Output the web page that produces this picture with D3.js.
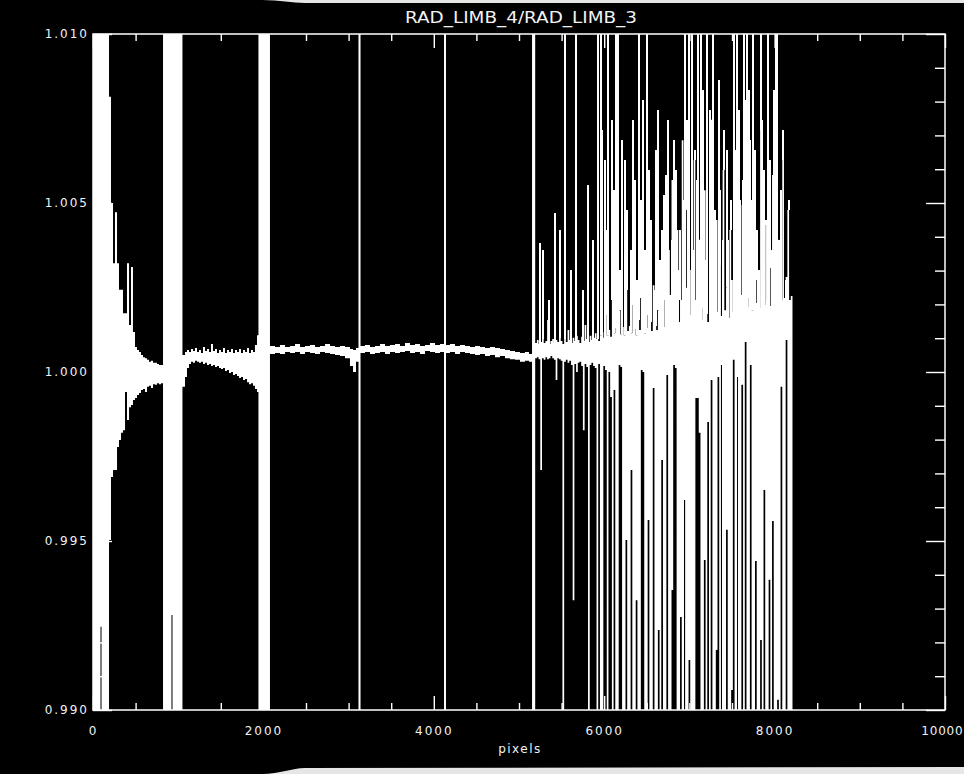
<!DOCTYPE html>
<html>
<head>
<meta charset="utf-8">
<script src="https://cdn.jsdelivr.net/npm/d3@7"></script>
<style>
  html, body { margin: 0; padding: 0; background: #000; }
  svg { display: block; }
</style>
</head>
<body>
<svg id="chart" width="964" height="774"></svg>
<script>
// ---- Trace envelope: each bin starts at binPix and holds the upper / lower
// extent of the ratio curve inside it (values above 1.010 or below 0.990 run off the frame)
const binPix = [0, 88, 100, 188, 211, 235, 258, 282, 305, 329, 352, 376, 399, 423, 446, 469, 493, 516, 540, 563,
  587, 610, 634, 657, 681, 704, 728, 751, 775, 798, 822, 921, 933, 1050, 1080, 1103, 1127, 1150, 1174, 1197,
  1221, 1244, 1268, 1291, 1315, 1338, 1362, 1385, 1408, 1432, 1455, 1479, 1502, 1526, 1549, 1573, 1596, 1620,
  1643, 1667, 1690, 1714, 1737, 1761, 1784, 1808, 1831, 1854, 1878, 1901, 1925, 1942, 2077, 2136, 2195, 2254,
  2312, 2371, 2430, 2488, 2547, 2606, 2664, 2723, 2782, 2840, 2899, 2958, 3016, 3052, 3087, 3116, 3140, 3192,
  3251, 3310, 3369, 3427, 3486, 3545, 3603, 3662, 3721, 3779, 3838, 3897, 3955, 4014, 4073, 4120, 4143, 4190,
  4249, 4308, 4366, 4425, 4484, 4542, 4601, 4660, 4718, 4777, 4836, 4894, 4953, 5012, 5070, 5117, 5153];

const binHi = [1.0120, 1.0120, 1.0120, 1.00814, 1.00500, 1.00322, 1.00473, 1.00322, 1.00243, 1.00243, 1.00174,
  1.00174, 1.00322, 1.00139, 1.00311, 1.00118, 1.00074, 1.00065, 1.00059, 1.00050, 1.00044, 1.00041, 1.00036,
  1.00030, 1.00033, 1.00027, 1.00027, 1.00024, 1.00021, 1.00021, 1.0120, 1.0120, 1.0120, 1.00050, 1.00059,
  1.00065, 1.00059, 1.00068, 1.00062, 1.00071, 1.00059, 1.00065, 1.00056, 1.00074, 1.00062, 1.00068, 1.00059,
  1.00083, 1.00062, 1.00068, 1.00056, 1.00065, 1.00059, 1.00071, 1.00056, 1.00065, 1.00059, 1.00068, 1.00056,
  1.00065, 1.00059, 1.00068, 1.00056, 1.00065, 1.00059, 1.00071, 1.00056, 1.00065, 1.00059, 1.00080, 1.00109,
  1.0120, 1.00077, 1.00074, 1.00080, 1.00074, 1.00077, 1.00083, 1.00074, 1.00077, 1.00080, 1.00074, 1.00077,
  1.00083, 1.00077, 1.00074, 1.00077, 1.00074, 1.00068, 1.00065, 1.00071, 1.0120, 1.00077, 1.00080, 1.00074,
  1.00077, 1.00083, 1.00077, 1.00080, 1.00083, 1.00077, 1.00086, 1.00080, 1.00083, 1.00077, 1.00080, 1.00086,
  1.00080, 1.00083, 1.0120, 1.00080, 1.00083, 1.00077, 1.00080, 1.00077, 1.00074, 1.00077, 1.00074, 1.00071,
  1.00074, 1.00071, 1.00068, 1.00065, 1.00062, 1.00059, 1.00056, 1.00059, 1.00053, 1.0120];

const binLo = [0.9880, 0.99246, 0.9880, 0.99503, 0.99689, 0.99710, 0.99710, 0.99778, 0.99799, 0.99820, 0.99828,
  0.99941, 0.99858, 0.99896, 0.99902, 0.99917, 0.99923, 0.99932, 0.99938, 0.99947, 0.99950, 0.99941, 0.99956,
  0.99959, 0.99953, 0.99964, 0.99962, 0.99967, 0.99964, 0.99967, 0.9880, 0.99281, 0.9880, 0.99956, 0.99985,
  1.00012, 1.00024, 1.00030, 1.00027, 1.00033, 1.00030, 1.00027, 1.00030, 1.00024, 1.00027, 1.00021, 1.00024,
  1.00018, 1.00021, 1.00015, 1.00018, 1.00012, 1.00009, 1.00012, 1.00003, 1.00006, 0.99997, 1.00000, 0.99991,
  0.99994, 0.99988, 0.99982, 0.99985, 0.99976, 0.99979, 0.99970, 0.99964, 0.99967, 0.99959, 0.99950, 0.99941,
  0.9880, 1.00053, 1.00056, 1.00053, 1.00059, 1.00056, 1.00059, 1.00053, 1.00059, 1.00056, 1.00053, 1.00059,
  1.00056, 1.00053, 1.00050, 1.00047, 1.00041, 1.00018, 1.00000, 1.00030, 0.9880, 1.00056, 1.00059, 1.00053,
  1.00056, 1.00059, 1.00053, 1.00059, 1.00056, 1.00059, 1.00062, 1.00056, 1.00059, 1.00053, 1.00062, 1.00059,
  1.00056, 1.00059, 0.9880, 1.00056, 1.00059, 1.00053, 1.00059, 1.00056, 1.00053, 1.00050, 1.00053, 1.00047,
  1.00050, 1.00044, 1.00047, 1.00041, 1.00038, 1.00036, 1.00030, 1.00033, 1.00030, 0.9880];

// ---- Noisy tail of the detector: uniform 20-pixel bins starting at tailStart
const tailStart = 5190;
const tailStep = 20;
const tailHi = [
  1.00086, 1.00095, 1.00083, 1.00089, 1.00098, 1.00086, 1.00092, 1.00154, 1.00083, 1.00092,
  1.00098, 1.00086, 1.00095, 1.00089, 1.00101, 1.00092, 1.00083, 1.00098, 1.00089, 1.00124,
  1.00095, 1.00086, 1.00101, 1.00092, 1.00107, 1.00095, 1.00086, 1.00104, 1.00092, 1.00139,
  1.00098, 1.00089, 1.00107, 1.00095, 1.00101, 1.00115, 1.00098, 1.00092, 1.00109, 1.00118,
  1.00101, 1.00169, 1.00109, 1.00124, 1.00104, 1.00213, 1.00115, 1.00130, 1.00107, 1.00183,
  1.00112, 1.00133, 1.00109, 1.00243, 1.00121, 1.00136, 1.00115, 1.00198, 1.00127, 1.00109,
  1.00154, 1.00124, 1.00219, 1.00133, 1.00115, 1.00169, 1.00130, 1.00148, 1.00121, 1.00257,
  1.00136, 1.00124, 1.00183, 1.00142, 1.00118, 1.00213, 1.00133, 1.00154, 1.00361, 1.00228,
  1.00568, 1.00139, 1.00272, 1.00420, 1.00148, 1.00213, 1.00686, 1.00178, 1.00249, 1.00479,
  1.00169, 1.00302, 1.00160, 1.00627, 1.00213, 1.00169, 1.00391, 1.00154, 1.00189, 1.00538,
  1.00172, 1.00148, 1.00225, 1.00746, 1.00263, 1.00160, 1.00450, 1.00178, 1.00317, 1.00166,
  1.00598, 1.00183, 1.00251, 1.00160, 1.00420, 1.00272, 1.00178, 1.00657, 1.00175, 1.00302,
  1.00494, 1.00228, 1.00178, 1.00805, 1.00192, 1.00219, 1.00376, 1.00183, 1.00538, 1.00204,
  1.00272, 1.00189, 1.00716, 1.00296, 1.00198, 1.00435, 1.00213, 1.00308, 1.00195, 1.00583,
  1.00263, 1.00204, 1.00391, 1.00222, 1.00213, 1.00627, 1.00219, 1.00281, 1.00479, 1.00213, 1.00225];

const tailLo = [
  1.00041, 1.00044, 1.00038, 0.99710, 1.00041, 1.00036, 1.00044, 1.00038, 1.00041, 1.00047,
  1.00041, 1.00036, 0.99976, 1.00041, 1.00038, 1.00033, 0.98800, 1.00030, 1.00036, 1.00027,
  1.00033, 1.00021, 0.99325, 1.00024, 1.00000, 1.00027, 1.00030, 1.00018, 0.99828, 1.00024,
  1.00015, 0.98800, 1.00021, 1.00027, 1.00018, 1.00012, 0.98800, 1.00024, 0.98800, 0.98800,
  1.00018, 1.00006, 0.98800, 1.00000, 0.99926, 0.98800, 0.99947, 0.98800, 0.98800, 1.00021,
  1.00015, 0.98800, 0.98800, 0.99503, 0.98800, 0.98800, 0.99710, 0.98800, 0.98800, 0.99325,
  0.98800, 0.98800, 1.00006, 1.00000, 0.98800, 0.98800, 0.99562, 0.98800, 0.98800, 0.99953,
  0.98800, 0.98800, 0.99237, 0.98800, 0.99740, 0.98800, 0.98800, 0.99991, 0.98800, 0.98800,
  0.99355, 1.00021, 1.00012, 0.98800, 0.98800, 0.99275, 0.98800, 0.99621, 0.98800, 0.98800,
  0.99148, 0.98800, 0.98800, 0.98800, 0.99923, 0.99923, 0.99820, 0.98800, 0.98800, 0.99444,
  0.98800, 0.99852, 0.98800, 0.99976, 0.98800, 0.98800, 0.99178, 0.99985, 0.98800, 1.00021,
  0.98800, 0.98800, 0.99533, 0.98800, 0.98800, 0.99059, 1.00036, 0.98800, 0.99985, 0.98800,
  0.98800, 0.99962, 0.98800, 1.00089, 0.98800, 0.98800, 1.00021, 0.98800, 0.98800, 0.99441,
  0.98800, 0.98800, 0.99207, 0.98800, 0.99651, 0.98800, 0.98800, 0.99385, 0.98800, 0.99559,
  0.98800, 0.98800, 0.99030, 0.98800, 0.99956, 0.98800, 0.98800, 1.00095, 0.98800, 0.98800, 0.98800];

// ---- Single-pixel excursions (thin lines) in the tail
const spikePix = [5540, 5669, 5927, 5962, 6045, 6138, 6162, 6408, 6502, 6948, 6995, 7031, 7101, 7136, 7207,
  7277, 7523, 7559, 7641, 7676, 7746, 7840, 7923, 8016, 8028,
  5246, 5282, 5352, 5423, 5481, 5610, 5751, 5810, 5869, 6009, 6092, 6209, 6268, 6315, 6362, 6455, 6549,
  6608, 6655, 6702, 6749, 6796, 6843, 6890, 7066, 7171, 7242, 7312, 7359, 7406, 7453, 7594, 7711, 7793,
  7876, 7969, 8075, 8134,
  5974, 6021, 6115, 6185, 6244, 6338, 6385, 6432, 6479, 6526, 6585, 6631, 6678, 6725, 6819, 6866, 6925,
  6972, 7054, 7089, 7160, 7195, 7265, 7300, 7347, 7394, 7441, 7488, 7547, 7582, 7629, 7664, 7700, 7735,
  7770, 7817, 7852, 7899, 7946, 7993, 8052, 8099, 8169];
const spikeVal = [1.0105, 1.0105, 1.0105, 1.0105, 1.0105, 1.0105, 1.0105, 1.0105, 1.0105, 1.0105, 1.0105,
  1.0105, 1.0105, 1.0105, 1.0105, 1.0105, 1.0105, 1.0105, 1.0105, 1.0105, 1.0105, 1.0105, 1.0105, 1.0105, 1.0105,
  1.00382, 1.00361, 1.00213, 1.00470, 1.00420, 1.00302, 1.00243, 1.00553, 1.00391, 1.00627, 1.00746, 1.00686,
  1.00479, 1.00361, 1.00568, 1.00805, 1.00450, 1.00657, 1.00331, 1.00524, 1.00746, 1.00391, 1.00598, 1.00420,
  1.00657, 1.00509, 1.00775, 1.00331, 1.00538, 1.00716, 1.00391, 1.00509, 1.00686, 1.00420, 1.00598, 1.00361,
  1.00538, 1.00272,
  1.00716, 1.00420, 1.00538, 1.00302, 1.00627, 1.00746, 1.00272, 1.00509, 1.00361, 1.00598, 1.00243, 1.00775,
  1.00420, 1.00583, 1.00686, 1.00302, 1.00509, 1.00746, 1.00361, 1.00568, 1.00834, 1.00331, 1.00627, 1.00479,
  1.00864, 1.00391, 1.00657, 1.00509, 1.00331, 1.00775, 1.00568, 1.00391, 1.00834, 1.00509, 1.00657, 1.00302,
  1.00746, 1.00450, 1.00627, 1.00834, 1.00391, 1.00716, 1.00509];

// ---- Axes
const xTicks = [0, 2000, 4000, 6000, 8000, 10000];
const xMinorTicks = [500, 1000, 1500, 2500, 3000, 3500, 4500, 5000, 5500, 6500, 7000, 7500, 8500, 9000, 9500];
const yTicks = [0.990, 0.995, 1.000, 1.005, 1.010];
const yMinorTicks = [0.991, 0.992, 0.993, 0.994, 0.996, 0.997, 0.998, 0.999, 1.001, 1.002, 1.003, 1.004,
  1.006, 1.007, 1.008, 1.009];

const titleText = "RAD_LIMB_4/RAD_LIMB_3";
const xTitle = "pixels";

const W = 964, H = 774;
const svg = d3.select("#chart");
svg.append("rect").attr("width", W).attr("height", H).attr("fill", "#000");

// light paper margins along the top and bottom edges
svg.append("path").attr("fill", "#e6e6e6")
  .attr("d", "M262,0 C280,0 292,3 305,3 L964,3 L964,0 Z");
svg.append("path").attr("fill", "#e6e6e6")
  .attr("d", "M262,774 C280,774 292,768 305,768 L964,767 L964,774 Z");

const x = d3.scaleLinear().domain([0, 10000]).range([93, 945]);
const y = d3.scaleLinear().domain([0.990, 1.010]).range([710, 34]);

svg.append("defs").append("clipPath").attr("id", "plotClip")
  .append("rect")
  .attr("x", x(0)).attr("y", y(1.010))
  .attr("width", x(10000) - x(0)).attr("height", y(0.990) - y(1.010));

const plot = svg.append("g").attr("clip-path", "url(#plotClip)");

// assemble all bins in pixel order
const bins = binPix.map((p, i) => ({ p, hi: binHi[i], lo: binLo[i] }));
tailHi.forEach((h, i) => bins.push({ p: tailStart + i * tailStep, hi: h, lo: tailLo[i] }));
const traceEnd = tailStart + tailHi.length * tailStep;
bins.push({ p: traceEnd, hi: tailHi[tailHi.length - 1], lo: tailLo[tailLo.length - 1] });

const envelope = d3.area()
  .x(d => x(d.p))
  .y0(d => y(d.lo))
  .y1(d => y(d.hi))
  .curve(d3.curveStepAfter);

plot.append("path").datum(bins)
  .attr("d", envelope)
  .attr("fill", "#fff");

function binAt(p) {
  let b = bins[0];
  for (const d of bins) { if (d.p <= p) b = d; else break; }
  return b;
}

const spikes = spikePix.map((p, i) => ({ p, v: spikeVal[i] }));
plot.selectAll("line.spike").data(spikes).join("line")
  .attr("class", "spike")
  .attr("x1", d => x(d.p)).attr("x2", d => x(d.p))
  .attr("y1", d => { const b = binAt(d.p); return y(d.v > b.hi ? b.hi : b.lo); })
  .attr("y2", d => y(d.v))
  .attr("stroke", "#fff").attr("stroke-width", 1.8)
  .attr("shape-rendering", "crispEdges");

// frame
svg.append("rect")
  .attr("x", x(0)).attr("y", y(1.010))
  .attr("width", x(10000) - x(0)).attr("height", y(0.990) - y(1.010))
  .attr("fill", "none").attr("stroke", "#fff").attr("stroke-width", 1.5);

const labelFont = "'DejaVu Sans', 'Liberation Sans', sans-serif";
function styleAxis(g, showText) {
  g.select(".domain").remove();
  g.selectAll(".tick line").attr("stroke", "#fff").attr("stroke-width", 1.4);
  g.selectAll(".tick text")
    .attr("fill", "#f2f2f2")
    .style("font-family", labelFont)
    .style("font-size", "12px")
    .style("letter-spacing", "2px")
    .style("display", showText ? null : "none");
}

// bottom
svg.append("g").attr("transform", `translate(0,${y(0.990)})`)
  .call(d3.axisBottom(x).tickValues(xTicks).tickSize(-14).tickPadding(16).tickFormat(d3.format("d")))
  .call(g => styleAxis(g, true))
  .call(g => g.selectAll(".tick text").filter(d => d === 10000)
    .style("letter-spacing", "0.8px").attr("text-anchor", "end").attr("x", 18));
svg.append("g").attr("transform", `translate(0,${y(0.990)})`)
  .call(d3.axisBottom(x).tickValues(xMinorTicks).tickSize(-7).tickFormat(""))
  .call(g => styleAxis(g, false));
// top
svg.append("g").attr("transform", `translate(0,${y(1.010)})`)
  .call(d3.axisTop(x).tickValues(xTicks).tickSize(-14).tickFormat(""))
  .call(g => styleAxis(g, false));
svg.append("g").attr("transform", `translate(0,${y(1.010)})`)
  .call(d3.axisTop(x).tickValues(xMinorTicks).tickSize(-7).tickFormat(""))
  .call(g => styleAxis(g, false));
// left
svg.append("g").attr("transform", `translate(${x(0)},0)`)
  .call(d3.axisLeft(y).tickValues(yTicks).tickSize(-19).tickPadding(4).tickFormat(d3.format(".3f")))
  .call(g => styleAxis(g, true));
svg.append("g").attr("transform", `translate(${x(0)},0)`)
  .call(d3.axisLeft(y).tickValues(yMinorTicks).tickSize(-10).tickFormat(""))
  .call(g => styleAxis(g, false));
// right
svg.append("g").attr("transform", `translate(${x(10000)},0)`)
  .call(d3.axisRight(y).tickValues(yTicks).tickSize(-19).tickFormat(""))
  .call(g => styleAxis(g, false));
svg.append("g").attr("transform", `translate(${x(10000)},0)`)
  .call(d3.axisRight(y).tickValues(yMinorTicks).tickSize(-10).tickFormat(""))
  .call(g => styleAxis(g, false));

// title and axis name
svg.append("text")
  .attr("x", 405).attr("y", 23)
  .attr("textLength", 232).attr("lengthAdjust", "spacingAndGlyphs")
  .attr("fill", "#f2f2f2")
  .style("font-family", labelFont).style("font-size", "15px")
  .text(titleText);

svg.append("text")
  .attr("x", 520).attr("y", 753)
  .attr("text-anchor", "middle")
  .attr("fill", "#f2f2f2")
  .style("font-family", labelFont).style("font-size", "12px").style("letter-spacing", "1.5px")
  .text(xTitle);
</script>
</body>
</html>
